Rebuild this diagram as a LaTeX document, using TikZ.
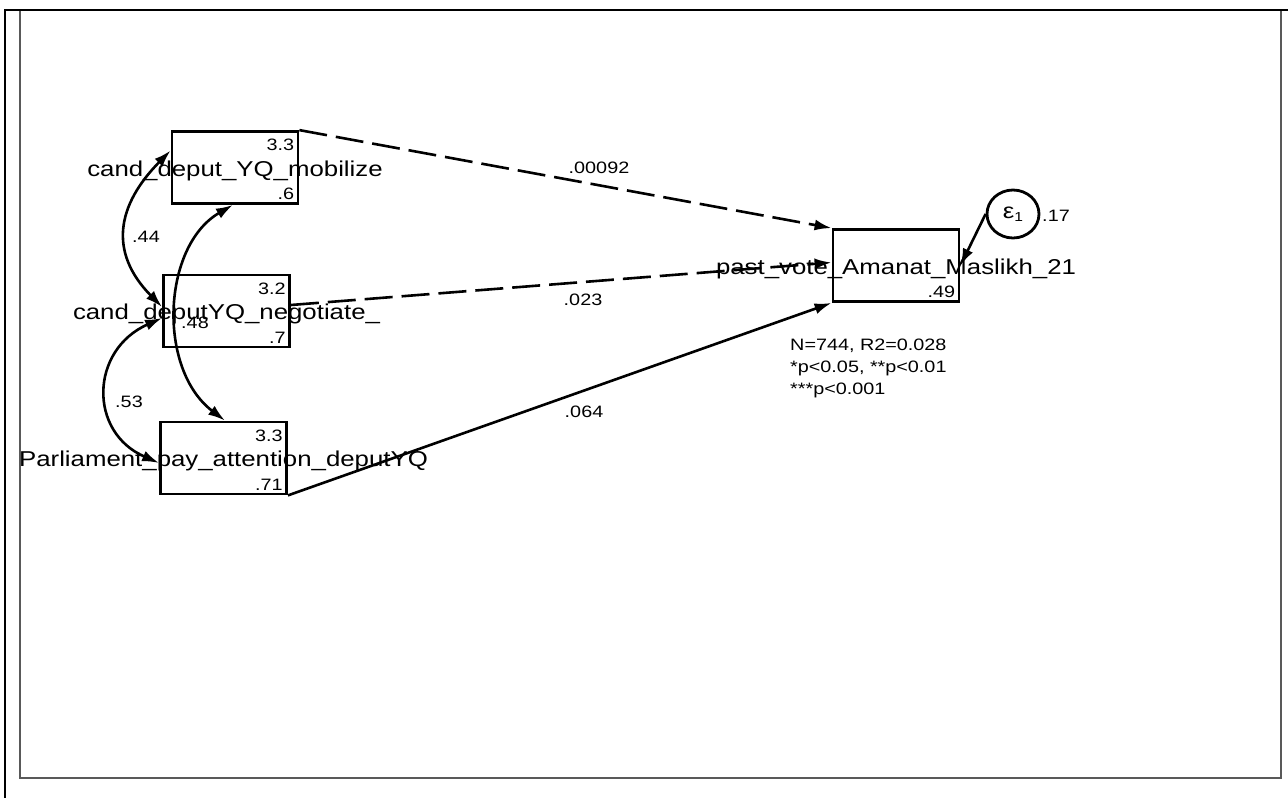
\documentclass[tikz,border=0pt]{standalone}
\usepackage{fontspec}
\usetikzlibrary{arrows.meta,shapes.geometric}
\newfontfamily\semfont[FakeStretch=1.2]{Liberation Sans}
\newcommand\namefont{\semfont\fontsize{21.5}{26}\selectfont}
\newcommand\numfont{\semfont\fontsize{16.5}{22}\selectfont}
\tikzset{
    varbox/.style={draw, line width=2.8pt, minimum width=126pt, minimum height=72pt, inner sep=0pt},
    varname/.style={font=\namefont, inner sep=0pt, yshift=-3pt},
    stat/.style={font=\numfont, inner sep=0pt},
    regpath/.style={line width=2.6pt, -{Latex[length=17pt,width=11pt]}},
    longdash/.style={dash pattern=on 28pt off 9pt},
    covpath/.style={line width=2.6pt, {Latex[length=17pt,width=11pt]}-{Latex[length=17pt,width=11pt]}}
}

\begin{document}
\begin{tikzpicture}[x=1pt, y=-1pt]
        \useasboundingbox (0,0) rectangle (1288,798);
        \draw[gray!70!black, line width=1.8pt] (20,10) rectangle (1281,778);
        \draw[line width=2.4pt] (1288,10) -- (5,10) -- (5,798);

        \foreach \n/\x/\y in {mob/235/167.5, neg/226.5/311, parl/223.5/458, vote/896/265.5} {
            \node[varbox] (\n) at (\x,\y) {};
        }

        \node[varname] (mobname) at (mob) {cand\_deput\_YQ\_mobilize};
        \node[varname] (negname) at (neg) {cand\_deputYQ\_negotiate\_};
        \node[varname] (parlname) at (parl) {Parliament\_pay\_attention\_deputYQ};
        \node[varname] (votename) at (vote) {past\_vote\_Amanat\_Maslikh\_21};

        \foreach \n/\m/\v in {mob/3.3/.6, neg/3.2/.7, parl/3.3/.71} {
            \node[stat, anchor=north east] at ([xshift=-5pt, yshift=-9pt]\n.north east) {\m};
            \node[stat, anchor=south east] at ([xshift=-5pt, yshift=5pt]\n.south east) {\v};
        }
        \node[stat, anchor=south east] (votevar) at ([xshift=-5pt, yshift=5pt]vote.south east) {.49};

        \node[
            draw,
            ellipse,
            line width=2.8pt,
            minimum width=52pt,
            minimum height=48pt,
            inner sep=0pt,
            font=\namefont
        ] (eps) at (1013,214) {ε\raisebox{-0.3ex}{\semfont\fontsize{13}{13}\selectfont 1}};
        \node[stat] (epsvar) at (1056,216) {.17};

        \draw[regpath, longdash] (mob.north east) -- (vote.north west);
        \draw[regpath, longdash] ([yshift=6pt]neg.east) -- ([yshift=3pt]vote.west);
        \draw[regpath] (parl.south east) -- (vote.south west);
        \draw[regpath] (eps.west) -- (vote.east);

        \draw[covpath] ([yshift=17pt]mob.west) .. controls (117,205) and (108,252) .. ([yshift=4pt]neg.west);
        \draw[covpath] ([yshift=-7pt]neg.west) .. controls (90,350) and (88,432) .. ([yshift=-5pt]parl.west);
        \draw[covpath] ([xshift=-2pt]mob.south) .. controls (162,246) and (157,369) .. ([xshift=1.5pt]parl.north);

        \node[stat] (cmob) at (599,168) {.00092};
        \node[stat] (cneg) at (583,300) {.023};
        \node[stat] (cparl) at (584,412) {.064};
        \node[stat] (rmobneg) at (146,237) {.44};
        \node[stat] (rmobparl) at (195,323) {.48};
        \node[stat] (rnegparl) at (129,402) {.53};

        \node[
            stat,
            anchor=north west,
            align=left
        ] (fit) at (790,339) {
            N=744, R2=0.028\\
            *p<0.05, **p<0.01\\
            ***p<0.001
        };
    \end{tikzpicture}
\end{document}
